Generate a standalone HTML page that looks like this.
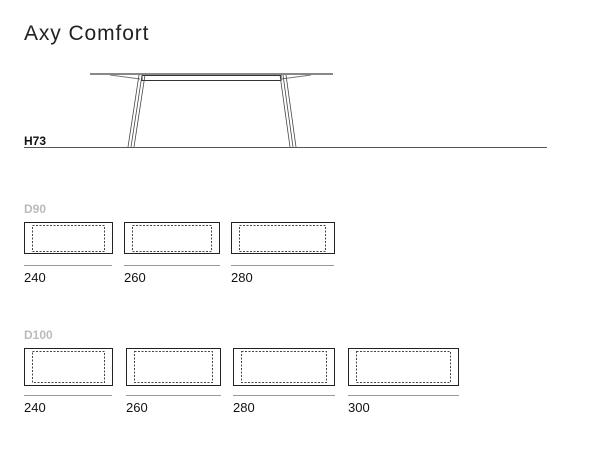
<!DOCTYPE html>
<html><head><style>body{margin:0;background:#fff;width:606px;height:452px;overflow:hidden}</style></head><body>
<svg width="606" height="452" xmlns="http://www.w3.org/2000/svg" font-family="Liberation Sans, sans-serif">
<rect width="606" height="452" fill="#fff"/>
<text x="24" y="40" font-size="21" fill="#222" letter-spacing="0.9">Axy Comfort</text>
<!-- table -->
<rect x="90" y="73" width="243" height="2" fill="#888"/>
<path d="M110 75 L140 79 M311 75 L281 79" stroke="#777" fill="none"/>
<rect x="142" y="75.5" width="139" height="5" fill="none" stroke="#333" stroke-width="1"/>
<path d="M139 75 L128 147 M142 75 L131 147 M145 75 L134 147" stroke="#444" stroke-width="0.8" fill="none"/>
<path d="M280 75 L290 147 M283 75 L293 147 M286 75 L296 147" stroke="#444" stroke-width="0.8" fill="none"/>
<text x="24" y="145" font-size="12" font-weight="bold" fill="#111">H73</text>
<line x1="24" y1="147.5" x2="547" y2="147.5" stroke="#555"/>
<!-- D90 -->
<text x="24" y="213" font-size="12" font-weight="bold" fill="#bbb">D90</text>
<g fill="none" stroke="#222">
<rect x="24.5" y="222.5" width="88" height="31"/>
<rect x="124.5" y="222.5" width="95" height="31"/>
<rect x="231.5" y="222.5" width="103" height="31"/>
</g>
<g fill="none" stroke="#444" stroke-dasharray="2,1.5">
<rect x="32.5" y="225.5" width="72" height="26"/>
<rect x="132.5" y="225.5" width="79" height="26"/>
<rect x="239.5" y="225.5" width="86" height="26"/>
</g>
<g stroke="#999"><line x1="24" y1="265.5" x2="112" y2="265.5"/><line x1="124" y1="265.5" x2="220" y2="265.5"/><line x1="231" y1="265.5" x2="334" y2="265.5"/></g>
<g font-size="13" fill="#111"><text x="24" y="282">240</text><text x="124" y="282">260</text><text x="231" y="282">280</text></g>
<!-- D100 -->
<text x="24" y="339" font-size="12" font-weight="bold" fill="#bbb">D100</text>
<g fill="none" stroke="#222">
<rect x="24.5" y="348.5" width="88" height="37"/>
<rect x="126.5" y="348.5" width="94" height="37"/>
<rect x="233.5" y="348.5" width="101" height="37"/>
<rect x="348.5" y="348.5" width="110" height="37"/>
</g>
<g fill="none" stroke="#444" stroke-dasharray="2,1.5">
<rect x="32.5" y="351.5" width="72" height="31"/>
<rect x="134.5" y="351.5" width="78" height="31"/>
<rect x="241.5" y="351.5" width="85" height="31"/>
<rect x="356.5" y="351.5" width="94" height="31"/>
</g>
<g stroke="#999"><line x1="24" y1="395.5" x2="112" y2="395.5"/><line x1="126" y1="395.5" x2="221" y2="395.5"/><line x1="233" y1="395.5" x2="335" y2="395.5"/><line x1="348" y1="395.5" x2="459" y2="395.5"/></g>
<g font-size="13" fill="#111"><text x="24" y="412">240</text><text x="126" y="412">260</text><text x="233" y="412">280</text><text x="348" y="412">300</text></g>
</svg>
</body></html>
